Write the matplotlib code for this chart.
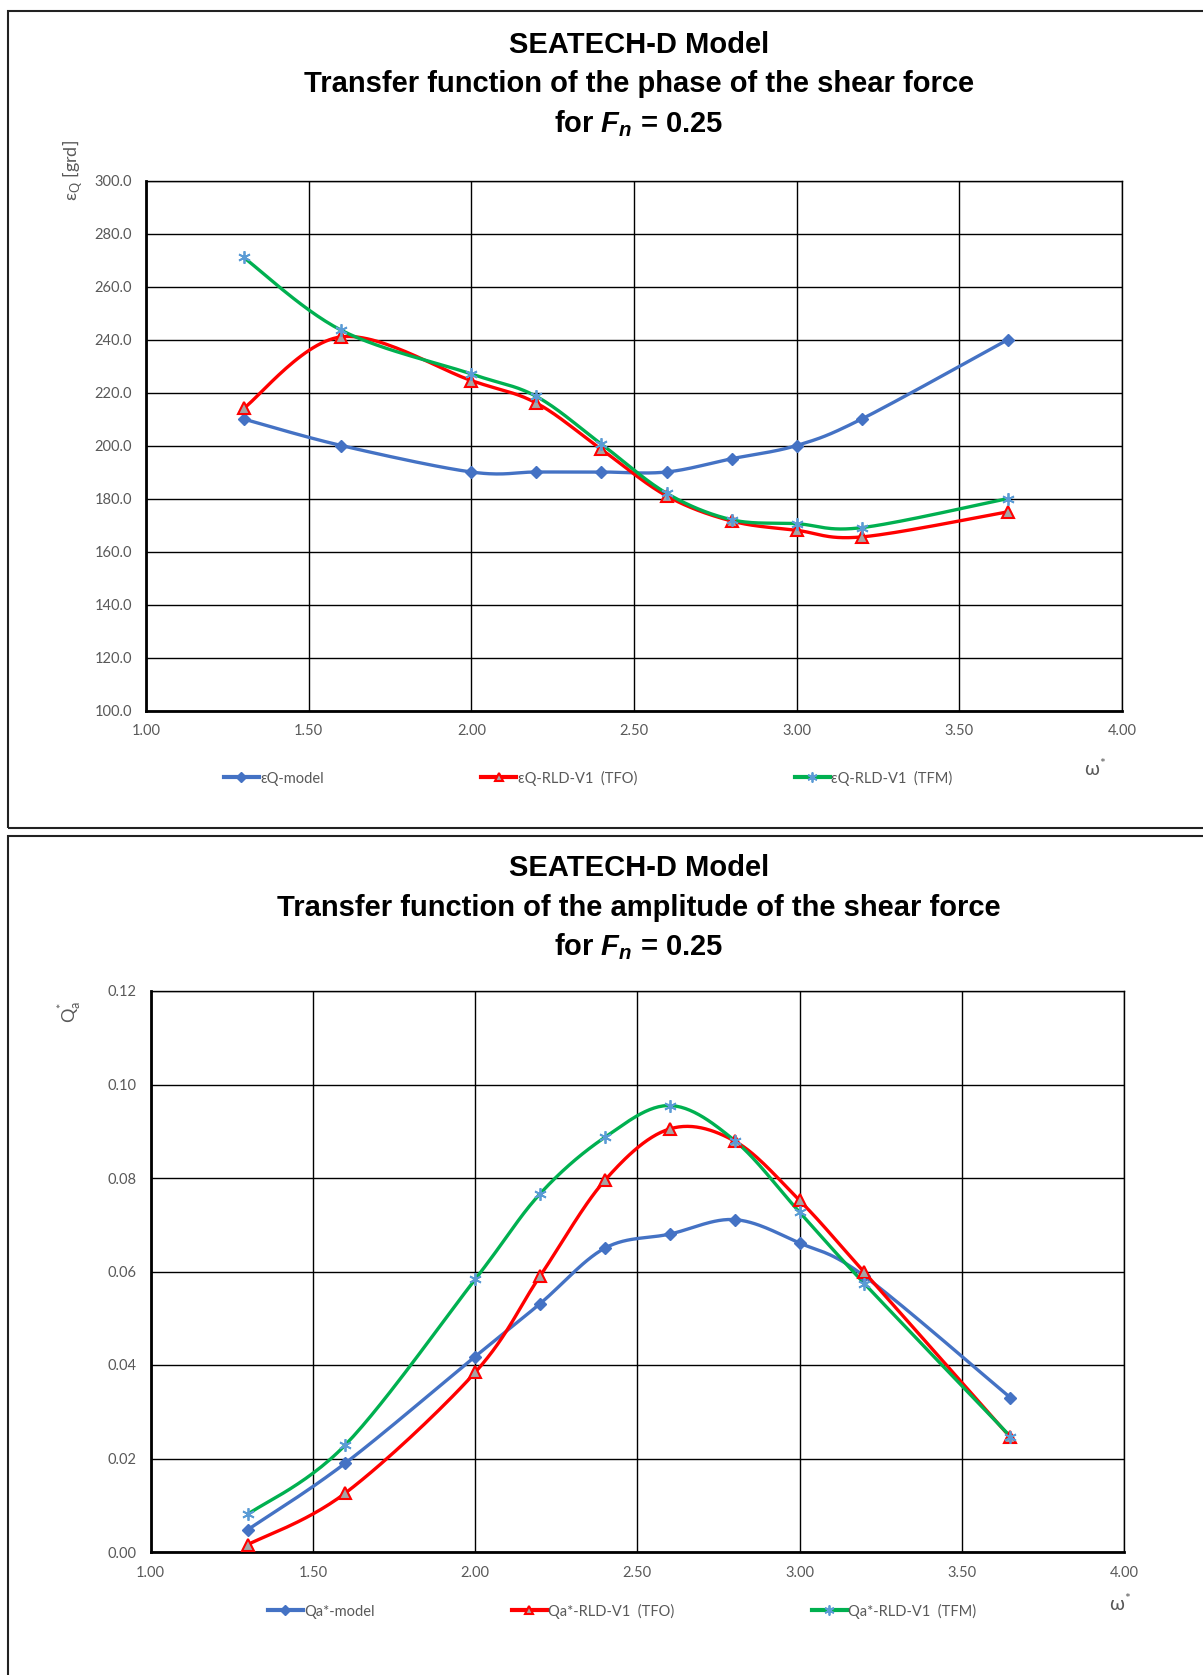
import numpy as np
import matplotlib
matplotlib.use("Agg")
import matplotlib.pyplot as plt
from matplotlib.patches import Rectangle

plt.rcParams['mathtext.fontset'] = 'custom'
plt.rcParams['mathtext.it'] = 'Liberation Sans:italic:bold'
plt.rcParams['mathtext.rm'] = 'Liberation Sans:bold'
plt.rcParams['mathtext.bf'] = 'Liberation Sans:bold'

# --- data ---
omega = [1.30, 1.60, 2.00, 2.20, 2.40, 2.60, 2.80, 3.00, 3.20, 3.65]

eps_model = [210, 200, 190, 190, 190, 190, 195, 200, 210, 240]
eps_tfo = [214, 241, 224.5, 216, 198.5, 181, 171.5, 168, 165.5, 175]
eps_tfm = [271, 243.5, 227, 218.5, 200.5, 182, 172, 170.5, 169, 180]

qa_model = [0.0048, 0.0190, 0.0418, 0.0531, 0.0650, 0.0680, 0.0711, 0.0661, 0.0590, 0.0330]
qa_tfo = [0.0016, 0.0126, 0.0384, 0.0590, 0.0795, 0.0905, 0.0879, 0.0752, 0.0598, 0.0245]
qa_tfm = [0.0081, 0.0229, 0.0583, 0.0766, 0.0887, 0.0955, 0.0880, 0.0727, 0.0574, 0.0247]

top_labels = ["\u03b5Q-model", "\u03b5Q-RLD-V1  (TFO)", "\u03b5Q-RLD-V1  (TFM)"]
bot_labels = ["Qa*-model", "Qa*-RLD-V1  (TFO)", "Qa*-RLD-V1  (TFM)"]

BLUE = "#4472C4"
RED = "#FF0000"
GREEN = "#00B050"
STAR = "#5B9BD5"
GRAY_TXT = "#595959"
TICK_FONT = "Lato"


def smooth(x, y, n=30):
    # Excel-style smoothed line (Catmull-Rom bezier)
    x = np.asarray(x, float)
    y = np.asarray(y, float)
    px, py = [], []
    m = len(x)
    t = np.linspace(0, 1, n)
    for i in range(m - 1):
        x0, y0 = (x[i - 1], y[i - 1]) if i > 0 else (x[i], y[i])
        x3, y3 = (x[i + 2], y[i + 2]) if i + 2 < m else (x[i + 1], y[i + 1])
        x1, y1, x2, y2 = x[i], y[i], x[i + 1], y[i + 1]
        c1x, c1y = x1 + (x2 - x0) / 6, y1 + (y2 - y0) / 6
        c2x, c2y = x2 - (x3 - x1) / 6, y2 - (y3 - y1) / 6
        bx = (1 - t) ** 3 * x1 + 3 * (1 - t) ** 2 * t * c1x + 3 * (1 - t) * t ** 2 * c2x + t ** 3 * x2
        by = (1 - t) ** 3 * y1 + 3 * (1 - t) ** 2 * t * c1y + 3 * (1 - t) * t ** 2 * c2y + t ** 3 * y2
        px.extend(bx)
        py.extend(by)
    return px, py


def draw_panel(ax, series, labels, ylim, yticks, yfmt, leg_xy, colspace):
    styles = [
        dict(color=BLUE, marker="D", ms=6, mfc=BLUE, mec=BLUE, mew=1),
        dict(color=RED, marker="^", ms=8, mfc="#A5A5A5", mec=RED, mew=1.5),
        dict(color=GREEN, marker=(6, 2, 0), ms=9, mfc=STAR, mec=STAR, mew=1.3),
    ]
    handles = []
    for ys, st, lab in zip(series, styles, labels):
        sx, sy = smooth(omega, ys)
        ax.plot(sx, sy, color=st["color"], lw=2.4, zorder=3, solid_capstyle="round")
        ax.plot(omega, ys, ls="none", marker=st["marker"], ms=st["ms"],
                mfc=st["mfc"], mec=st["mec"], mew=st["mew"], zorder=4)
        h, = ax.plot([], [], color=st["color"], lw=3, marker=st["marker"],
                     ms=st["ms"] * 0.8, mfc=st["mfc"], mec=st["mec"], mew=st["mew"])
        handles.append(h)
    ax.set_xlim(1.0, 4.0)
    ax.set_ylim(*ylim)
    ax.set_xticks(np.arange(1.0, 4.01, 0.5))
    ax.set_xticklabels([f"{v:.2f}" for v in np.arange(1.0, 4.01, 0.5)])
    ax.set_yticks(yticks)
    ax.set_yticklabels([yfmt.format(v) for v in yticks])
    ax.grid(True, color="black", lw=1.0)
    ax.set_axisbelow(True)
    ax.tick_params(length=0, labelsize=10.5, labelcolor=GRAY_TXT, pad=10)
    for lab in ax.get_xticklabels() + ax.get_yticklabels():
        lab.set_fontfamily(TICK_FONT)
    for s in ["top", "right"]:
        ax.spines[s].set_linewidth(1.0)
    for s in ["left", "bottom"]:
        ax.spines[s].set_linewidth(2.0)
    ax.legend(handles, labels, loc="center", bbox_to_anchor=leg_xy,
              bbox_transform=fig.transFigure, ncol=3, frameon=False,
              handlelength=2.4, handletextpad=0.1, columnspacing=colspace,
              prop=dict(family=TICK_FONT, size=10.5), labelcolor=GRAY_TXT)


W, H = 1203, 1675
fig = plt.figure(figsize=(W / 100, H / 100), dpi=100)

# frames around the two charts
fig.patches.append(Rectangle((8 / W, 1 - 828 / H), 1.0, (828 - 11) / H,
                             transform=fig.transFigure, fill=False, ec="#222222", lw=1.5))
fig.patches.append(Rectangle((8 / W, -0.01), 1.0, (1675 - 836) / H + 0.01,
                             transform=fig.transFigure, fill=False, ec="#222222", lw=1.5))

ax1 = fig.add_axes([146 / W, 1 - 710.5 / H, (1122 - 146) / W, (710.5 - 180.5) / H])
draw_panel(ax1, [eps_model, eps_tfo, eps_tfm], top_labels, (100, 300),
           np.arange(100, 301, 20), "{:.1f}", (588 / W, 1 - 778 / H), 10.8)

ax2 = fig.add_axes([150.6 / W, 1 - 1552 / H, (1124 - 150.6) / W, (1552 - 991) / H])
draw_panel(ax2, [qa_model, qa_tfo, qa_tfm], bot_labels, (0, 0.12),
           np.arange(0, 0.121, 0.02), "{:.2f}", (622 / W, 1 - 1611 / H), 9.4)

# titles
title_kw = dict(ha="center", va="center", fontsize=21, fontweight="bold",
                family="Liberation Sans")
fig.text(639 / W, 1 - 45 / H, "SEATECH-D Model", **title_kw)
fig.text(639 / W, 1 - 84 / H, "Transfer function of the phase of the shear force", **title_kw)
fig.text(639 / W, 1 - 124 / H, r"for $F_n$ = 0.25", **title_kw)
fig.text(639 / W, 1 - 868 / H, "SEATECH-D Model", **title_kw)
fig.text(639 / W, 1 - 908 / H, "Transfer function of the amplitude of the shear force", **title_kw)
fig.text(639 / W, 1 - 947 / H, r"for $F_n$ = 0.25", **title_kw)

# axis labels
lab_kw = dict(ha="center", va="center", color=GRAY_TXT, family=["Lato", "DejaVu Sans"])
fig.text(72 / W, 1 - 171 / H, "\u03b5$_{\\mathregular{Q}}$ [grd]", rotation=90,
         fontsize=13, **lab_kw)
fig.text(70 / W, 1 - 1012 / H, "Q$_{\\mathregular{a}}^{\\mathregular{*}}$", rotation=90,
         fontsize=13, **lab_kw)
fig.text(1095 / W, 1 - 768 / H, "\u03c9$^{\\mathregular{*}}$", fontsize=14, **lab_kw)
fig.text(1120 / W, 1 - 1603 / H, "\u03c9$^{\\mathregular{*}}$", fontsize=14, **lab_kw)

fig.savefig("out.png", dpi=100)
